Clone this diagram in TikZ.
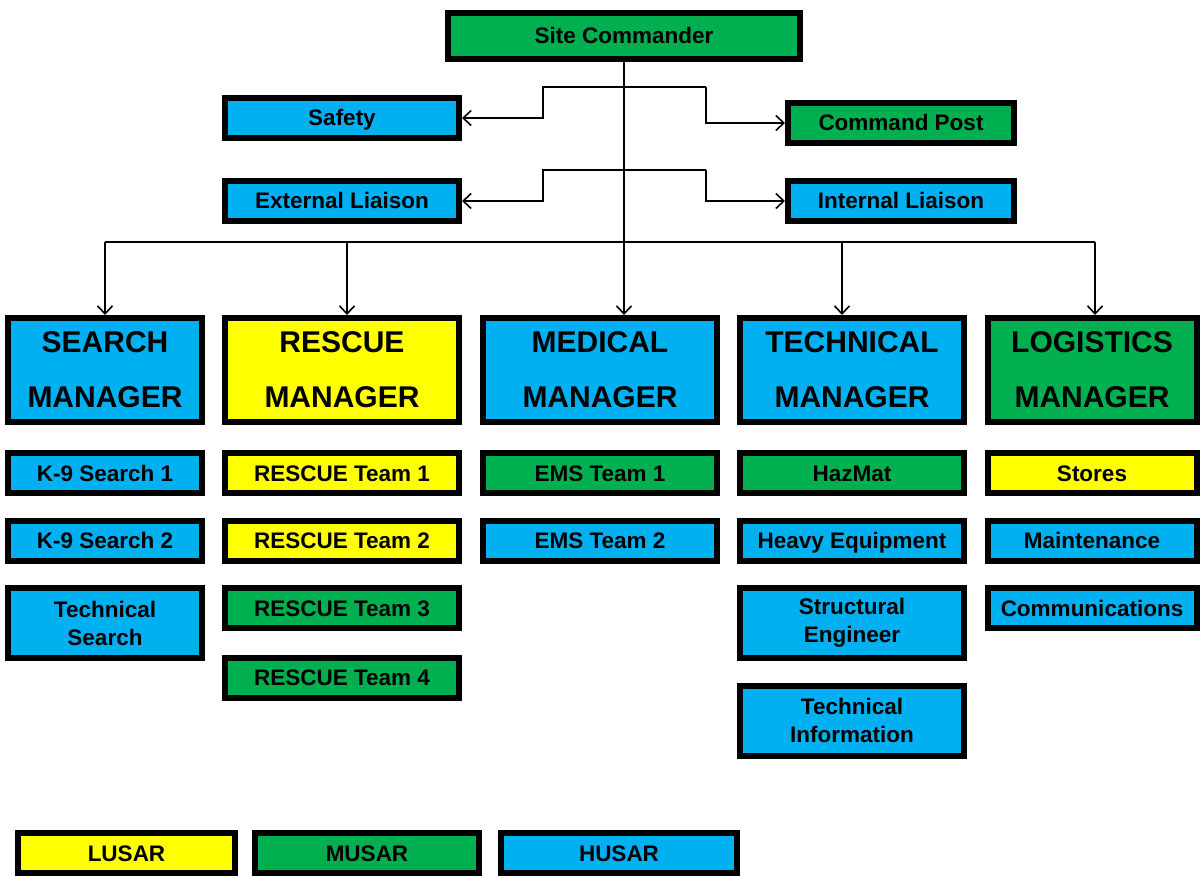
\documentclass[tikz,border=0pt]{standalone}
\usepackage{fontspec}
\setmainfont{Liberation Sans}
\usetikzlibrary{arrows.meta}

\definecolor{husar}{HTML}{00B0F0}
\definecolor{musar}{HTML}{00B050}
\definecolor{lusar}{HTML}{FFFF00}

\tikzset{
  tallbox/.style={draw=black, line width=6pt, inner sep=0pt, align=center,
    minimum height=70pt, font=\bfseries\fontsize{22.5}{28}\selectfont},
  box/.style={tallbox, minimum height=40pt, text height=16pt, text depth=0pt},
  mgr/.style={tallbox, minimum height=104pt, font=\bfseries\fontsize{30}{55}\selectfont},
  link/.style={line width=1.6pt, -{Straight Barb[length=8pt,width=15pt,line width=1.6pt]}}
}

\begin{document}
\begin{tikzpicture}[x=1pt, y=-1pt]
\useasboundingbox (0,0) rectangle (1202,877);

% top of the chart
\node[box, fill=musar, minimum width=352pt, minimum height=46pt] (sc) at (624,36) {Site Commander};
\node[box, fill=husar, minimum width=234pt] (safety) at (342,118) {Safety};
\node[box, fill=musar, minimum width=226pt] (cmdpost) at (901,123) {Command Post};
\node[box, fill=husar, minimum width=234pt] (extl) at (342,201) {External Liaison};
\node[box, fill=husar, minimum width=226pt] (intl) at (901,201) {Internal Liaison};

% managers
\node[mgr, fill=husar, minimum width=194pt] (srch) at (105,370) {SEARCH\\MANAGER};
\node[mgr, fill=lusar, minimum width=234pt] (resc) at (342,370) {RESCUE\\MANAGER};
\node[mgr, fill=husar, minimum width=234pt] (med) at (600,370) {MEDICAL\\MANAGER};
\node[mgr, fill=husar, minimum width=224pt] (tech) at (852,370) {TECHNICAL\\MANAGER};
\node[mgr, fill=musar, minimum width=209pt] (logi) at (1092,370) {LOGISTICS\\MANAGER};

% search
\node[box, fill=husar, minimum width=194pt] (k9a) at (105,473) {K-9 Search 1};
\node[box, fill=husar, minimum width=194pt] (k9b) at (105,540.5) {K-9 Search 2};
\node[tallbox, fill=husar, minimum width=194pt] (tsrch) at (105,623) {Technical\\Search};

% rescue
\node[box, fill=lusar, minimum width=234pt] (rt1) at (342,473) {RESCUE Team 1};
\node[box, fill=lusar, minimum width=234pt] (rt2) at (342,540.5) {RESCUE Team 2};
\node[box, fill=musar, minimum width=234pt] (rt3) at (342,608) {RESCUE Team 3};
\node[box, fill=musar, minimum width=234pt] (rt4) at (342,677.5) {RESCUE Team 4};

% medical
\node[box, fill=musar, minimum width=234pt] (ems1) at (600,473) {EMS Team 1};
\node[box, fill=husar, minimum width=234pt] (ems2) at (600,540.5) {EMS Team 2};

% technical
\node[box, fill=musar, minimum width=224pt] (hazmat) at (852,473) {HazMat};
\node[box, fill=husar, minimum width=224pt] (heavy) at (852,540.5) {Heavy Equipment};
\node[tallbox, fill=husar, minimum width=224pt] (struct) at (852,623) {Structural\\Engineer};
\node[tallbox, fill=husar, minimum width=224pt] (techinfo) at (852,720.5) {Technical\\Information};

% logistics
\node[box, fill=lusar, minimum width=209pt] (stores) at (1092,473) {Stores};
\node[box, fill=husar, minimum width=209pt] (maint) at (1092,540.5) {Maintenance};
\node[box, fill=husar, minimum width=209pt] (comms) at (1092,608) {Communications};

% legend
\node[box, fill=lusar, minimum width=217pt] (lusar) at (126.5,853) {LUSAR};
\node[box, fill=musar, minimum width=224pt] (musar) at (367,853) {MUSAR};
\node[box, fill=husar, minimum width=236pt] (husarleg) at (619,853) {HUSAR};

% connectors
\coordinate (brL1) at (543,87);
\coordinate (brR1) at (706,87);
\coordinate (brL2) at (543,170);
\coordinate (brR2) at (706,170);
\coordinate (bus) at (624,242);

\draw[link] (sc.south) -- (sc.south |- med.north);
\draw[link] (brR1) -- (brL1) |- (safety.east);
\draw[link] (brR1) |- (cmdpost.west);
\draw[link] (brR2) -- (brL2) |- (extl.east);
\draw[link] (brR2) |- (intl.west);

\draw[line width=1.6pt] (bus -| srch.north) -- ([xshift=3pt]bus -| logi.north);
\draw[link] (bus -| srch.north) -- (srch.north);
\draw[link] ([xshift=5pt]bus -| resc.north) -- ([xshift=5pt]resc.north);
\draw[link] ([xshift=-10pt]bus -| tech.north) -- ([xshift=-10pt]tech.north);
\draw[link] ([xshift=3pt]bus -| logi.north) -- ([xshift=3pt]logi.north);

\end{tikzpicture}
\end{document}
